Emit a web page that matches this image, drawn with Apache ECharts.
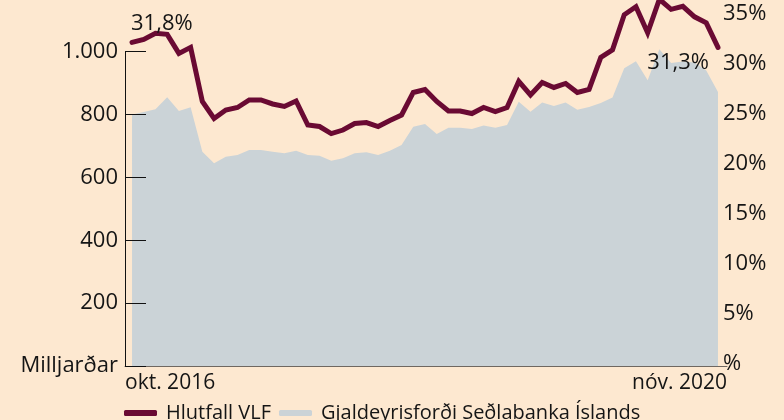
<!DOCTYPE html>
<html>
<head>
<meta charset="utf-8">
<script src="https://cdn.jsdelivr.net/npm/echarts@6/dist/echarts.min.js"></script>
<style>
  html, body { margin: 0; padding: 0; background: #fde8d0; }
  #chart { width: 784px; height: 420px; }
</style>
</head>
<body>
<div id="chart"></div>
<script>
// gögn, mánaðarlega
const tickLabels = ['okt. 2016', 'nóv. 2020'];
const ratioName = 'Hlutfall VLF';
const reserveName = 'Gjaldeyrisforði Seðlabanka Íslands';
// hlutfall af VLF (%)
const ratio = [31.8, 32.1, 32.7, 32.6, 30.7, 31.3, 25.9, 24.2, 25.05, 25.3,
  26.05, 26.05, 25.65, 25.4, 25.95, 23.55, 23.4, 22.7, 23.05, 23.7,
  23.8, 23.4, 24.0, 24.55, 26.8, 27.1, 25.9, 24.95, 24.95, 24.7,
  25.3, 24.9, 25.3, 27.9, 26.55, 27.8, 27.3, 27.7, 26.8, 27.1,
  30.3, 31.05, 34.55, 35.35, 32.75, 36.1, 35.1, 35.4, 34.35, 33.75, 31.3];
// gjaldeyrisforði (milljarðar)
const reserves = [800, 808, 817, 855, 811, 823, 682, 645, 666, 671,
  687, 687, 682, 677, 685, 671, 669, 653, 661, 677,
  680, 671, 685, 703, 761, 770, 738, 758, 758, 754,
  765, 758, 767, 841, 809, 838, 827, 838, 815, 824,
  837, 854, 947, 970, 909, 1008, 964, 969, 966, 940, 872];

const last = ratio.length - 1;
const xMin = -0.6;
const xMax = last + 0.77;

const textColor = '#151515';
const font = '"Open Sans", "Noto Sans", sans-serif';

const myChart = echarts.init(document.getElementById('chart'));
const option = {
  backgroundColor: '#fde8d0',
  animation: false,
  textStyle: { fontFamily: font, color: textColor },
  grid: [
    { left: 125, right: 57, top: 51.7, bottom: 54 },   // milljarðar
    { left: 125, right: 57, top: 10.3, bottom: 59 }    // %
  ],
  legend: {
    left: 119,
    top: 398,
    itemWidth: 33,
    itemHeight: 6,
    itemGap: 8,
    textStyle: { fontSize: 20, color: textColor, fontFamily: font, padding: [0, 0, 0, 4] },
    data: [
      { name: ratioName, icon: 'roundRect' },
      { name: reserveName, icon: 'roundRect' }
    ]
  },
  xAxis: [
    {
      type: 'value',
      gridIndex: 0,
      min: xMin,
      max: xMax,
      z: 5,
      splitLine: { show: false },
      axisTick: { show: false },
      axisLine: { show: true, onZero: false, lineStyle: { color: '#6f6760', width: 1 } },
      axisLabel: {
        customValues: [xMin, xMax],
        alignMinLabel: 'left',
        alignMaxLabel: 'right',
        fontSize: 21,
        color: textColor,
        margin: 7,
        formatter: (val) => (val < 0 ? tickLabels[0] : tickLabels[1])
      }
    },
    {
      type: 'value',
      gridIndex: 1,
      min: xMin,
      max: xMax,
      show: false
    }
  ],
  yAxis: [
    {
      type: 'value',
      gridIndex: 0,
      min: 0,
      max: 1000,
      interval: 200,
      z: 5,
      splitLine: { show: false },
      axisLine: { show: true, onZero: false, lineStyle: { color: '#111', width: 1 } },
      axisTick: { show: true, inside: true, length: 21, lineStyle: { color: '#111', width: 1 } },
      axisLabel: {
        fontSize: 22,
        color: textColor,
        margin: 7,
        formatter: (val) => {
          if (val === 0) return 'Milljarðar';
          return val >= 1000 ? (val / 1000) + '.' + String(val % 1000).padStart(3, '0') : `${val}`;
        }
      }
    },
    {
      type: 'value',
      gridIndex: 1,
      position: 'right',
      min: 0,
      max: 35,
      interval: 5,
      splitLine: { show: false },
      axisLine: { show: false, onZero: false },
      axisTick: { show: false },
      axisLabel: {
        fontSize: 22,
        color: textColor,
        margin: -4,
        verticalAlign: 'top',
        lineHeight: 6,
        formatter: (val) => (val === 0 ? '%' : val + '%')
      }
    }
  ],
  series: [
    {
      name: reserveName,
      type: 'line',
      xAxisIndex: 0,
      yAxisIndex: 0,
      clip: false,
      showSymbol: false,
      symbol: 'none',
      color: '#cbd3d7',
      lineStyle: { width: 0 },
      areaStyle: { color: '#cbd3d7', opacity: 1 },
      data: reserves.map((v, i) => [i, v])
    },
    {
      name: ratioName,
      type: 'line',
      xAxisIndex: 1,
      yAxisIndex: 1,
      clip: false,
      symbol: 'circle',
      symbolSize: 0,
      showSymbol: true,
      color: '#6a0a33',
      lineStyle: { width: 5, color: '#6a0a33', cap: 'round', join: 'miter' },
      label: {
        show: true,
        fontSize: 22,
        color: textColor,
        formatter: (p) => {
          if (p.dataIndex === 0 || p.dataIndex === last) {
            return String(p.value[1]).replace('.', ',') + '%';
          }
          return '';
        }
      },
      data: ratio.map((v, i) => {
        if (i === 0) {
          return { value: [i, v], label: { position: 'top', align: 'left', distance: 8, offset: [-1, 0] } };
        }
        if (i === last) {
          return { value: [i, v], label: { position: 'left', distance: 9, offset: [0, 15] } };
        }
        return [i, v];
      })
    }
  ]
};
myChart.setOption(option);
window.addEventListener('resize', () => {
  myChart.resize();
});
</script>
</body>
</html>
